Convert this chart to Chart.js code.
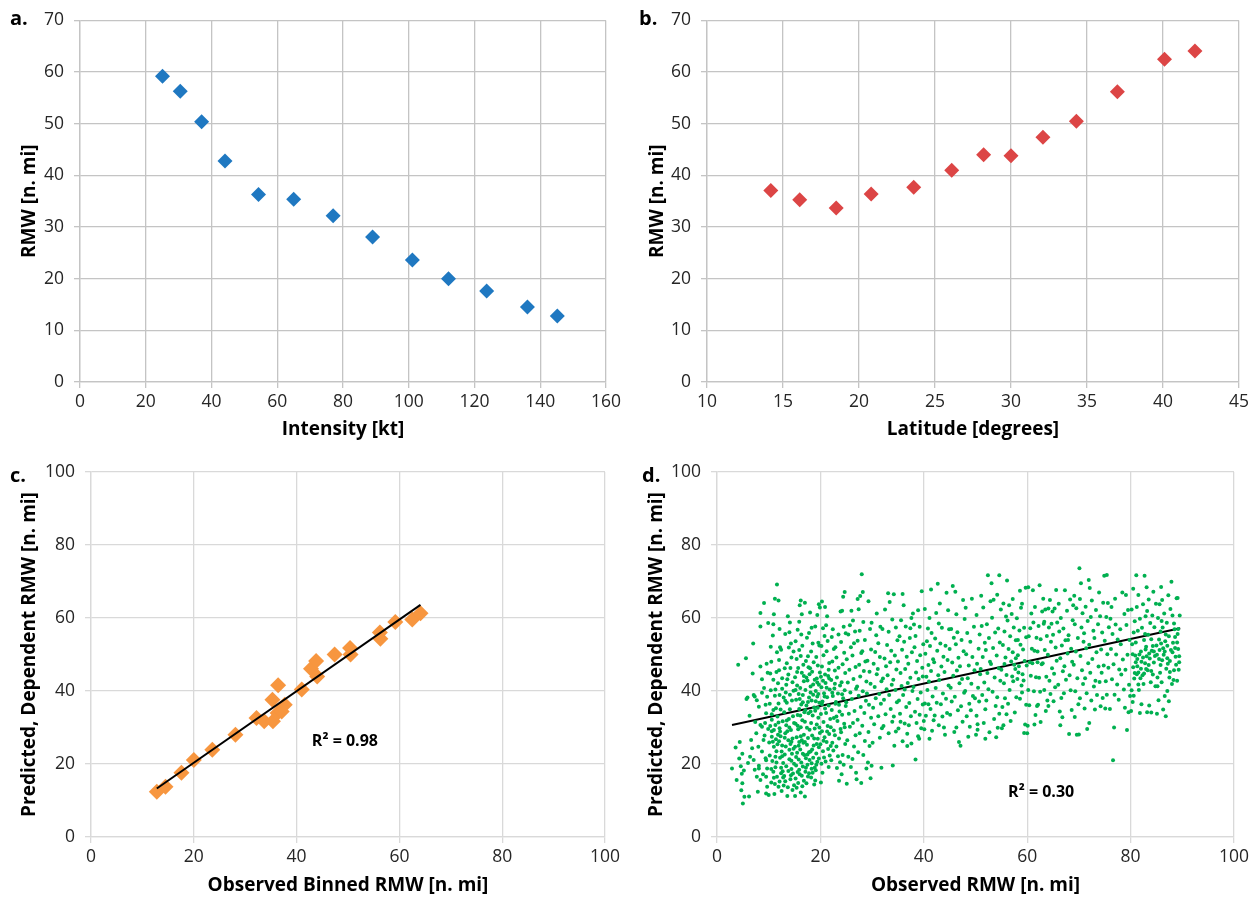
<!DOCTYPE html>
<html>
<head>
<meta charset="utf-8">
<title>RMW relationships</title>
<script src="https://cdn.jsdelivr.net/npm/chart.js@4.4.1/dist/chart.umd.min.js"></script>
<style>
  html, body { margin: 0; padding: 0; background: #fff; }
  #wrap { position: relative; width: 1258px; height: 899px; overflow: hidden; }
  #wrap canvas { position: absolute; }
</style>
</head>
<body>
<div id="wrap">
  <canvas id="panelA"></canvas>
  <canvas id="panelB"></canvas>
  <canvas id="panelC"></canvas>
  <canvas id="panelD"></canvas>
</div>
<script>
// --- a. RMW by intensity bin
const intensityKt = [25.1, 30.5, 37.0, 44.1, 54.3, 65.0, 77.0, 89.0, 101.1, 112.1, 123.7, 136.1, 145.2];
const rmwByIntensity = [59.2, 56.3, 50.4, 42.8, 36.3, 35.4, 32.2, 28.1, 23.6, 20.0, 17.6, 14.5, 12.8];

// --- b. RMW by latitude bin
const latitudeDeg = [14.2, 16.1, 18.5, 20.8, 23.6, 26.1, 28.2, 30.0, 32.1, 34.3, 37.0, 40.1, 42.1];
const rmwByLatitude = [37.1, 35.3, 33.7, 36.4, 37.7, 41.0, 44.0, 43.8, 47.4, 50.5, 56.2, 62.5, 64.1];

// --- c. binned observed vs predicted
const observedBinned = [12.8, 14.5, 17.6, 20.0, 23.6, 28.1, 32.2, 33.7, 35.3, 35.4, 36.3, 36.4, 37.1,
  37.7, 41.0, 42.8, 43.8, 44.0, 47.4, 50.4, 50.5, 56.2, 56.3, 59.2, 62.5, 64.1];
const predictedBinned = [12.4, 13.8, 17.6, 21.1, 23.9, 28.0, 32.6, 31.7, 37.6, 31.7, 34.0, 41.6, 34.4,
  36.2, 40.4, 46.1, 48.2, 44.0, 50.0, 51.8, 50.0, 56.0, 54.3, 58.9, 59.6, 61.3];
const trendObsC = [12.8, 64.1];
const trendPredC = [13.3, 63.6];
const r2TextC = 'R² = 0.98';
const r2AtC = [49.4, 26.3];

// --- d. every case, observed vs predicted [obs, pred]
const obsVsPred = [
  [2.9,18.8],[4.1,47.2],[4.3,21.5],[4.6,19.4],[4.7,12.8],[4.9,14.7],[5.0,9.2],[4.8,17.3],[3.6,24.5],[4.4,26.0],[4.9,22.8],[3.8,15.6],
  [5.2,18.2],[5.3,11.0],[5.6,49.0],[5.7,37.8],[5.9,38.2],[6.2,11.1],[6.3,33.2],[6.4,22.0],[6.6,26.6],[6.8,24.3],[7.0,53.0],[7.1,21.1],
  [7.1,38.9],[7.3,18.4],[7.3,38.5],[7.6,28.4],[7.7,16.5],[7.7,37.5],[8.0,24.7],[8.1,18.8],[8.1,19.5],[8.1,35.7],[8.4,61.4],[8.4,57.7],
  [8.4,46.7],[8.4,15.6],[8.4,30.7],[8.7,43.2],[8.7,30.2],[8.7,23.4],[8.7,39.5],[9.0,26.6],[9.1,64.1],[9.1,40.8],[9.4,21.6],[9.4,36.2],
  [9.5,33.9],[9.5,21.0],[9.5,16.5],[9.5,11.9],[9.7,38.4],[9.7,18.8],[9.7,13.8],[9.9,58.6],[9.8,45.0],[9.6,47.5],[6.9,44.8],[7.4,31.5],
  [9.2,27.8],[9.9,29.6],[8.9,17.2],[6.0,20.3],[7.9,12.4],[9.3,31.2],
  [10.0,11.5],[10.6,32.1],[11.0,29.3],[10.6,27.5],[11.0,24.7],[11.3,22.0],[11.3,19.1],[11.6,16.5],[11.9,13.8],[10.2,36.5],[10.4,40.2],
  [10.3,44.8],[10.5,48.0],[10.8,55.2],[10.9,58.3],[11.2,65.3],[11.6,69.2],[11.9,64.8],[12.1,57.0],[12.2,52.0],[12.4,51.3],[12.0,48.5],
  [11.5,45.2],[11.8,42.1],[11.2,38.7],[11.4,35.3],[11.7,33.0],[11.9,31.4],[12.1,29.8],[12.3,27.6],[12.0,26.2],[12.6,25.1],[12.5,23.4],
  [12.2,21.7],[12.8,20.3],[12.4,19.0],[12.7,18.0],[12.1,15.2],[12.9,14.1],[12.5,12.6],[13.0,16.7],[13.1,22.6],[13.3,24.8],[13.2,28.4],
  [13.4,30.6],[13.0,34.2],[13.5,36.8],[13.3,39.6],[13.6,43.2],[13.8,44.5],[13.5,47.6],[13.9,51.9],[13.2,55.6],[13.7,60.5],[14.1,58.8],
  [14.0,56.1],[14.3,53.0],[14.4,49.2],[14.2,46.3],[14.6,42.4],[14.8,40.1],[14.5,37.4],[14.1,35.0],[14.7,33.1],[14.9,31.2],[14.3,29.3],
  [14.6,27.0],[14.2,25.5],[14.8,24.2],[14.5,22.8],[14.0,21.3],[14.9,20.1],[14.4,18.6],[14.7,17.4],[14.2,15.8],[14.9,14.2],[14.6,12.9],
  [13.6,11.2],[10.7,20.8],[10.9,17.9],[10.5,14.9],[11.1,11.8],[11.4,26.8],[10.3,30.4],[11.9,36.6],[12.7,31.7],[12.9,38.2],[13.8,26.5],
  [13.4,19.4],[10.6,33.6],[11.8,28.0],[12.3,34.9],[13.9,32.3],[11.5,23.5],[12.6,40.6],[10.9,43.1],[13.1,46.2],[14.0,30.0],[12.8,16.3],
  [11.2,14.5],[13.7,13.6],[14.4,26.1],[10.1,25.9],[12.0,45.7],[13.4,41.7],[11.6,50.6],[10.4,52.1],[14.8,50.8],[11.0,61.0],
  [10.2,22.3],[10.8,26.1],[11.3,30.7],[11.7,25.4],[12.2,28.9],[12.6,22.1],[13.1,27.2],[13.5,31.9],[14.0,23.9],[14.4,20.9],[10.5,18.6],
  [11.0,16.2],[11.5,20.4],[12.4,17.5],[13.2,15.3],[13.8,18.1],[14.3,16.9],[10.9,34.8],[11.3,40.4],[12.6,43.5],[13.2,37.3],[14.1,39.0],
  [12.1,38.9],[10.6,29.0],[13.6,29.0],
  [15.1,11.2],[15.4,13.5],[15.2,16.0],[15.6,17.8],[15.3,19.6],[15.8,21.2],[15.5,23.1],[15.1,24.7],[15.9,26.0],[15.4,27.3],[15.7,29.5],
  [15.2,31.0],[15.6,33.4],[15.9,35.1],[15.3,37.6],[15.8,39.2],[15.5,41.5],[15.1,43.8],[15.7,46.3],[15.4,48.8],[15.9,51.2],[15.6,56.8],
  [15.9,59.0],[16.2,64.8],[16.0,63.5],[16.3,55.5],[16.5,52.4],[16.2,49.6],[16.7,47.2],[16.4,45.0],[16.8,42.7],[16.1,40.8],[16.6,38.9],
  [16.3,36.3],[16.9,34.2],[16.5,32.0],[16.2,30.1],[16.8,28.0],[16.4,26.5],[16.7,25.8],[16.1,24.0],[16.9,22.5],[16.3,20.4],[16.6,19.3],
  [16.0,17.2],[16.8,15.4],[16.5,13.9],[16.2,12.2],[17.0,11.1],[17.3,14.7],[17.1,17.9],[17.5,19.8],[17.2,21.6],[17.8,23.2],[17.4,25.3],
  [17.6,27.1],[17.9,29.4],[17.0,31.6],[17.7,33.9],[17.3,36.0],[17.8,38.2],[17.1,40.3],[17.5,42.9],[17.9,44.6],[17.2,48.2],[17.6,49.5],
  [17.4,54.6],[17.8,55.9],[18.0,61.5],[18.3,57.3],[18.5,53.0],[18.2,50.8],[18.7,47.9],[18.4,45.3],[18.9,43.1],[18.1,41.2],[18.6,39.0],
  [18.3,37.4],[18.8,35.5],[18.5,33.3],[18.2,31.2],[18.9,29.7],[18.4,27.8],[18.7,25.1],[18.1,23.4],[18.6,21.7],[18.3,20.2],[18.9,19.0],
  [18.5,17.6],[18.2,16.3],[18.8,14.4],[19.1,18.3],[19.4,20.6],[19.2,22.9],[19.7,24.6],[19.5,26.9],[19.9,28.5],[19.3,30.8],[19.6,32.7],
  [19.0,34.6],[19.8,36.8],[19.4,38.5],[19.1,40.0],[19.7,41.7],[19.3,43.4],[19.9,45.1],[19.5,47.0],[19.2,49.3],[19.8,52.5],[19.6,53.2],
  [19.4,60.8],[19.9,62.9],[19.7,63.8],[19.0,57.7],[17.0,64.2],[16.4,61.0],[15.2,53.6],[15.5,45.2],[17.7,46.5],[19.6,39.2],[18.1,34.4],
  [16.0,37.8],[17.5,22.6],[19.0,15.5],[15.7,14.8],[17.6,16.6],
  [15.3,21.9],[15.8,25.0],[16.2,27.6],[16.6,22.8],[17.0,26.0],[17.4,29.9],[17.9,21.1],[18.4,24.0],[18.8,27.0],[19.3,25.5],[19.7,21.5],
  [15.6,30.5],[16.1,33.3],[16.6,36.9],[17.1,34.8],[17.6,37.0],[18.1,39.6],[18.6,41.8],[19.1,37.2],[19.5,35.4],[15.9,18.4],[16.4,16.8],
  [17.2,19.0],[17.8,17.5],[18.3,18.7],[19.2,19.8],[19.8,30.0],[15.2,40.3],[16.8,44.1],[18.0,46.2],[19.4,42.3],[17.3,43.7],
  [20.1,14.9],[20.4,17.6],[20.2,20.1],[20.7,21.8],[20.5,23.5],[20.0,25.4],[20.8,27.3],[20.3,29.0],[20.6,31.5],[20.1,33.7],[20.9,35.2],
  [20.4,37.1],[20.7,39.4],[20.2,41.0],[20.5,42.8],[20.9,44.5],[20.3,46.7],[20.6,49.8],[20.2,52.3],[20.8,55.1],[20.5,57.2],[20.9,63.0],
  [20.3,64.5],[21.1,58.0],[21.4,53.7],[21.2,50.9],[21.7,47.7],[21.5,44.1],[21.0,42.2],[21.8,40.4],[21.3,38.3],[21.6,36.0],[21.1,34.0],
  [21.9,32.3],[21.4,30.4],[21.7,28.2],[21.2,26.0],[21.5,24.1],[21.8,22.3],[21.0,20.7],[21.6,19.2],[22.1,21.0],[22.5,23.7],[22.3,25.8],
  [22.8,27.9],[22.0,30.1],[22.6,32.6],[22.2,34.8],[22.9,36.5],[22.4,38.6],[22.7,40.7],[22.1,43.0],[22.8,45.6],[22.3,48.1],[22.6,51.5],
  [22.2,54.8],[22.9,52.0],[23.1,49.2],[23.5,46.4],[23.2,43.7],[23.8,41.5],[23.4,39.3],[23.0,37.0],[23.7,34.4],[23.3,31.8],[23.9,29.6],
  [23.6,27.0],[23.1,24.8],[23.4,22.1],[23.8,20.5],[23.2,18.9],[23.6,15.4],[24.1,17.2],[24.5,19.8],[24.3,22.5],[24.8,25.5],[24.0,28.7],
  [24.6,31.0],[24.2,33.5],[24.9,35.9],[24.4,38.0],[24.7,40.2],[24.1,42.4],[24.8,44.9],[24.3,47.3],[24.6,50.5],[24.0,53.4],[24.9,55.8],
  [24.5,57.6],[24.2,62.0],[24.7,67.1],[24.4,65.8],[23.9,61.8],[21.3,60.5],[22.4,56.9],[23.5,55.5],
  [20.3,36.4],[20.8,38.5],[21.2,40.9],[21.7,43.4],[22.3,39.5],[22.8,42.0],[20.6,26.4],[21.3,28.9],[22.0,24.9],[22.6,29.2],[23.1,33.0],
  [23.6,36.2],[24.2,39.1],[24.7,30.1],[20.1,43.9],[21.6,45.8],
  [25.1,14.6],[25.4,22.0],[25.2,26.5],[25.7,30.2],[25.5,33.8],[25.0,36.9],[25.8,39.6],[25.3,42.3],[25.6,45.8],[25.1,48.7],[25.9,52.0],
  [25.4,55.5],[25.7,58.0],[26.0,62.0],[26.3,59.3],[26.5,53.1],[26.2,49.7],[26.8,46.6],[26.4,43.3],[26.9,40.6],[26.1,37.8],[26.6,34.5],
  [26.3,31.2],[26.8,27.9],[26.5,24.8],[26.2,21.4],[26.9,17.6],[27.0,15.8],[27.3,23.2],[27.6,28.4],[27.2,32.1],[27.8,35.6],[27.4,38.7],
  [27.1,41.2],[27.7,44.0],[27.5,47.2],[27.9,50.4],[27.2,53.8],[27.6,56.5],[27.4,62.4],[27.7,66.0],[27.2,65.2],[27.9,14.8],[28.0,72.0],
  [28.2,67.1],[28.3,58.9],[28.6,54.0],[28.1,50.9],[28.7,48.1],[28.4,45.5],[28.9,42.6],[28.2,39.9],[28.8,37.3],[28.5,34.0],[28.1,30.5],
  [28.6,26.3],[28.3,22.5],[28.9,18.8],[29.2,20.4],[29.5,24.9],[29.3,28.8],[29.8,32.7],[29.4,36.2],[29.0,39.3],[29.7,42.0],[29.5,45.3],
  [29.1,48.3],[29.8,51.4],[29.6,57.0],[29.3,64.6],[29.9,58.7],[29.7,16.1],[29.9,19.5],[26.7,56.3],[25.9,19.2],
  [30.1,25.8],[30.4,30.9],[30.2,35.4],[30.7,38.0],[30.5,41.1],[30.9,44.6],[30.3,47.5],[30.6,50.7],[30.8,55.3],[31.2,53.1],[31.5,49.3],
  [31.1,46.0],[31.8,42.7],[31.4,39.2],[31.7,36.5],[31.2,33.1],[31.9,29.8],[31.5,27.2],[31.8,19.0],[32.2,30.4],[32.6,33.6],[32.3,37.6],
  [32.8,40.5],[32.1,43.4],[32.7,46.8],[32.4,48.9],[32.0,57.0],[32.9,52.6],[33.1,66.8],[33.4,64.4],[33.2,56.2],[33.7,51.0],[33.5,47.9],
  [33.0,44.3],[33.8,41.7],[33.3,38.9],[33.6,35.1],[33.9,31.6],[33.2,28.4],[34.0,19.6],[34.3,25.0],[34.6,28.9],[34.2,33.0],[34.8,36.9],
  [34.5,40.3],[34.1,43.1],[34.7,45.9],[34.4,49.7],[34.9,53.9],[34.6,57.4],[34.2,66.5],[30.9,61.2],[31.6,57.6],[32.5,62.3],[33.9,59.6],
  [35.1,29.7],[35.4,33.8],[35.2,37.4],[35.7,41.4],[35.5,44.9],[35.0,48.1],[35.8,51.3],[35.3,55.0],[35.6,59.4],[35.9,66.6],[36.1,63.5],
  [36.5,57.7],[36.2,53.5],[36.7,49.4],[36.4,46.0],[36.9,42.2],[36.0,38.9],[36.6,35.6],[36.3,31.1],[36.8,28.3],[37.1,30.6],[37.5,33.1],
  [37.2,36.7],[37.8,40.0],[37.4,43.6],[37.0,47.5],[37.7,50.6],[37.3,54.5],[37.9,61.2],[37.6,60.0],[38.1,58.2],[38.4,55.1],[38.2,52.0],
  [38.7,48.2],[38.5,45.1],[38.0,41.1],[38.8,37.8],[38.3,34.3],[38.6,31.2],[38.9,27.6],[38.4,21.2],[39.1,26.9],[39.5,29.8],[39.2,33.5],
  [39.8,36.3],[39.4,39.6],[39.0,43.3],[39.7,46.4],[39.3,49.8],[39.9,52.8],[39.6,67.3],[39.2,57.6],[36.8,24.9],[37.6,25.6],[35.9,26.2],
  [38.9,62.1],[36.3,40.4],[37.4,57.2],[39.8,44.0],[35.5,31.6],
  [40.1,29.5],[40.4,33.2],[40.2,36.6],[40.7,40.3],[40.5,43.9],[40.9,47.1],[40.3,50.2],[40.6,53.6],[40.8,57.1],[40.2,62.5],[41.1,60.0],
  [41.5,55.9],[41.2,52.3],[41.8,48.7],[41.4,45.5],[41.0,42.6],[41.7,38.5],[41.3,35.1],[41.9,32.0],[41.6,29.1],[42.1,33.3],[42.5,36.8],
  [42.3,40.8],[42.8,44.3],[42.0,47.9],[42.6,51.0],[42.2,54.4],[42.9,58.5],[42.4,61.4],[42.7,69.4],[43.1,64.0],[43.5,57.3],[43.2,53.0],
  [43.8,49.4],[43.4,46.7],[43.0,43.0],[43.7,39.3],[43.3,36.4],[43.9,30.0],[44.1,28.0],[44.5,34.0],[44.3,37.9],[44.8,41.5],[44.0,45.2],
  [44.6,48.5],[44.2,52.4],[44.9,56.9],[44.4,66.9],[44.7,62.1],[41.4,67.8],[40.0,31.8],[42.9,30.6],[43.6,33.0],[41.1,26.9],[40.9,36.4],
  [45.1,33.5],[45.4,37.1],[45.2,40.9],[45.7,44.2],[45.5,47.8],[45.0,51.5],[45.8,54.6],[45.3,57.0],[45.6,68.8],[46.1,67.2],[46.5,56.1],
  [46.2,52.8],[46.7,49.1],[46.4,45.6],[46.9,42.1],[46.0,38.4],[46.6,34.7],[46.3,30.0],[46.8,26.0],[47.1,25.0],[47.5,31.6],[47.2,35.8],
  [47.8,39.5],[47.4,43.3],[47.0,46.8],[47.7,50.9],[47.3,54.0],[47.9,59.7],[47.6,64.9],[48.1,62.8],[48.4,55.9],[48.2,50.1],[48.7,47.0],
  [48.5,43.5],[48.0,40.0],[48.8,36.5],[48.3,33.1],[48.9,30.2],[49.1,34.7],[49.5,38.6],[49.2,42.0],[49.8,45.7],[49.4,49.3],[49.0,53.5],
  [49.7,57.6],[49.3,65.3],[49.9,38.0],[46.3,61.0],[45.9,28.8],[48.6,27.5],
  [50.1,28.0],[50.4,29.4],[50.2,33.2],[50.7,37.1],[50.5,40.9],[50.9,44.6],[50.3,47.5],[50.6,51.6],[50.8,55.5],[50.2,60.8],[51.1,66.1],
  [51.5,62.9],[51.2,57.8],[51.8,53.2],[51.4,49.3],[51.0,46.0],[51.7,42.3],[51.3,38.9],[51.9,35.0],[51.6,31.2],[52.1,37.4],[52.5,40.5],
  [52.3,44.9],[52.8,48.0],[52.0,51.2],[52.6,54.5],[52.2,58.3],[52.9,64.6],[52.4,71.7],[53.1,69.5],[53.5,65.0],[53.2,60.1],[53.8,56.0],
  [53.4,51.8],[53.0,47.4],[53.7,43.7],[53.3,39.8],[53.9,35.9],[53.6,32.3],[54.0,27.3],[54.3,29.9],[54.6,33.8],[54.2,38.3],[54.8,42.8],
  [54.5,46.2],[54.1,49.7],[54.7,53.3],[54.4,57.1],[54.9,62.3],[54.6,71.7],[54.2,66.4],[51.9,26.9],[52.7,28.7],[50.4,30.9],
  [55.1,29.8],[55.4,30.6],[55.2,35.6],[55.7,38.0],[55.5,42.1],[55.0,45.8],[55.8,49.2],[55.3,52.6],[55.6,56.3],[55.9,60.4],[55.4,64.0],
  [56.1,70.3],[56.5,63.5],[56.2,59.3],[56.7,55.0],[56.4,51.5],[56.9,48.1],[56.0,44.4],[56.6,40.3],[56.3,36.5],[56.8,31.8],[57.1,44.0],
  [57.5,47.2],[57.2,50.6],[57.8,53.9],[57.4,57.4],[57.0,61.1],[57.7,46.0],[57.3,42.7],[57.9,38.3],[57.6,34.1],[58.1,43.3],[58.4,46.8],
  [58.2,49.8],[58.7,52.7],[58.5,56.6],[58.0,59.9],[58.8,62.8],[58.3,45.1],[58.9,41.5],[58.6,37.9],[59.1,44.6],[59.5,48.2],[59.2,51.4],
  [59.8,54.7],[59.4,57.3],[59.0,63.9],[59.7,68.3],[59.3,42.9],[59.9,47.0],[59.6,30.8],[59.4,28.5],[59.8,36.2],[57.2,65.2],[58.6,67.5],
  [56.0,33.6],[55.6,47.4],[58.2,54.0],[59.0,39.6],[57.8,49.0],
  [60.1,30.5],[60.4,36.1],[60.2,40.3],[60.7,44.2],[60.5,47.9],[60.9,51.6],[60.3,55.0],[60.6,57.2],[60.8,61.2],[60.2,68.4],[61.1,67.6],
  [61.5,63.0],[61.2,58.8],[61.8,54.6],[61.4,51.0],[61.0,47.6],[61.7,43.8],[61.3,39.9],[61.9,35.9],[61.6,33.4],[62.1,36.2],[62.5,39.8],
  [62.3,43.6],[62.8,47.3],[62.0,50.8],[62.6,54.2],[62.2,57.8],[62.9,61.8],[62.4,69.0],[63.1,65.3],[63.5,62.3],[63.2,58.4],[63.8,55.1],
  [63.4,51.2],[63.0,47.6],[63.7,43.9],[63.3,40.3],[63.9,37.4],[63.6,34.5],[64.1,35.9],[64.5,39.2],[64.3,42.8],[64.8,46.2],[64.0,49.9],
  [64.6,53.5],[64.2,57.4],[64.9,61.8],[64.4,64.9],[64.7,58.4],[60.0,28.4],[61.4,30.8],[62.6,31.5],[64.1,62.6],[63.3,59.0],[62.0,47.9],
  [65.1,37.2],[65.4,41.0],[65.2,44.7],[65.7,48.3],[65.5,51.9],[65.0,55.4],[65.8,58.8],[65.3,62.6],[65.6,67.7],[66.1,63.9],[66.5,60.0],
  [66.2,56.3],[66.7,52.5],[66.4,49.0],[66.9,45.4],[66.0,41.7],[66.6,38.1],[66.3,34.4],[66.8,32.8],[67.1,39.4],[67.5,43.1],[67.2,46.8],
  [67.8,50.3],[67.4,53.9],[67.0,57.1],[67.7,62.0],[67.3,67.6],[67.9,54.0],[68.1,28.2],[68.4,40.2],[68.2,44.3],[68.7,48.0],[68.5,51.6],
  [68.0,55.3],[68.8,59.4],[68.3,65.1],[68.9,63.5],[69.1,66.1],[69.5,62.7],[69.2,58.3],[69.8,54.5],[69.4,50.8],[69.0,47.2],[69.7,43.5],
  [69.3,39.9],[69.9,36.4],[69.6,28.0],[69.2,32.9],[68.6,34.8],[66.4,30.6],
  [70.1,73.6],[70.4,69.5],[70.2,65.2],[70.7,61.3],[70.5,57.4],[70.9,53.5],[70.3,49.6],[70.6,45.7],[70.8,41.9],[70.2,38.0],[71.1,35.2],
  [71.5,39.4],[71.2,43.5],[71.8,47.6],[71.4,51.7],[71.0,55.8],[71.7,59.2],[71.3,63.1],[71.9,70.4],[72.1,68.2],[72.5,64.8],[72.3,60.3],
  [72.8,56.5],[72.0,52.7],[72.6,48.8],[72.2,45.0],[72.9,41.2],[72.4,37.4],[73.1,34.9],[73.5,38.9],[73.2,42.8],[73.8,46.7],[73.4,50.6],
  [73.0,54.5],[73.7,58.3],[73.3,62.2],[73.9,67.0],[74.1,60.5],[74.5,56.0],[74.3,51.4],[74.8,47.0],[74.0,42.5],[74.6,38.1],[74.2,35.8],
  [74.9,71.6],[74.4,45.0],[70.0,28.1],[72.0,31.2],[74.7,64.2],[71.6,29.6],
  [75.1,35.2],[75.4,39.0],[75.2,42.7],[75.7,46.4],[75.5,50.1],[75.0,53.8],[75.8,57.5],[75.3,60.3],[75.6,64.1],[75.4,71.8],[76.1,59.8],
  [76.5,55.6],[76.2,51.5],[76.7,47.3],[76.4,43.2],[76.9,39.0],[76.0,35.1],[76.6,21.0],[76.3,63.0],[77.1,58.2],[77.5,54.1],[77.2,50.0],
  [77.8,45.9],[77.4,41.8],[77.0,65.3],[77.7,37.6],[78.1,52.8],[78.5,48.6],[78.2,44.5],[78.7,40.4],[78.0,56.9],[78.8,61.1],[78.4,67.0],
  [78.9,35.4],[79.1,66.3],[79.5,62.2],[79.2,58.1],[79.8,54.0],[79.4,49.9],[79.0,45.8],[79.7,41.7],[79.3,29.3],[79.6,34.2],[79.9,38.6],
  [76.8,30.0],
  [80.1,34.5],[80.4,37.0],[80.2,40.2],[80.7,43.4],[80.5,46.5],[80.9,49.7],[80.3,52.8],[80.6,56.0],[80.8,59.1],[80.2,62.3],[80.5,68.0],
  [81.1,71.7],[81.5,66.3],[81.2,63.0],[81.8,59.8],[81.4,56.5],[81.0,53.3],[81.7,50.0],[81.3,46.8],[81.9,43.5],[81.6,40.3],[81.2,44.6],
  [81.8,34.0],[82.1,36.4],[82.5,41.9],[82.3,44.3],[82.8,47.6],[82.0,50.8],[82.6,54.0],[82.2,57.3],[82.9,60.5],[82.4,63.8],[82.7,71.6],
  [83.1,68.4],[83.5,65.1],[83.2,61.9],[83.8,58.6],[83.4,55.4],[83.0,52.1],[83.7,48.9],[83.3,45.7],[83.9,42.4],[83.6,36.0],[83.2,34.2],
  [84.1,51.0],[84.5,47.8],[84.3,44.5],[84.8,41.3],[84.0,54.2],[84.6,57.5],[84.2,60.7],[84.9,63.9],[84.4,67.2],[84.7,49.6],[84.0,34.1],
  [82.0,46.1],[81.0,47.9],[82.4,49.2],[83.6,50.3],[80.8,44.9],[83.0,46.0],[81.5,41.8],[84.3,52.3],[80.6,38.7],[82.8,55.6],
  [81.5,45.1],[82.1,48.0],[82.6,44.8],[83.1,49.5],[83.5,47.1],[84.0,45.5],[84.5,50.8],[81.3,48.8],[80.4,50.1],[82.9,51.4],
  [85.1,33.8],[85.4,37.5],[85.2,41.3],[85.7,45.0],[85.5,48.8],[85.0,52.5],[85.8,56.3],[85.3,60.0],[85.6,63.8],[85.9,68.5],[86.1,64.9],
  [86.5,61.2],[86.2,57.4],[86.7,53.6],[86.4,49.9],[86.9,46.1],[86.0,42.4],[86.6,38.6],[86.3,34.9],[86.8,33.1],[87.1,40.0],[87.5,43.7],
  [87.2,47.5],[87.8,51.2],[87.4,55.0],[87.0,58.7],[87.7,62.5],[87.3,66.2],[87.9,69.9],[88.1,60.7],[88.5,56.9],[88.2,53.2],[88.7,49.4],
  [88.4,45.7],[88.0,41.9],[88.8,47.2],[88.3,43.0],[88.9,65.4],[88.6,51.8],[89.1,65.5],[89.5,60.7],[89.2,57.0],[89.0,53.3],[89.4,49.5],
  [89.3,45.8],[89.0,42.8],[89.4,47.9],[85.5,54.1],[86.3,51.7],[87.1,49.0],[86.8,55.5],[85.8,47.1],[87.6,45.2],[86.0,59.2],[88.4,58.5],
  [87.4,37.2],[85.2,43.7],[89.2,51.5],
  [85.1,49.9],[85.6,51.2],[86.1,48.4],[86.6,50.8],[87.1,52.4],[87.6,48.2],[88.1,50.6],[88.6,54.8],[89.1,55.6],[85.9,53.0]
];
const trendObsD = [2.9, 89.6];
const trendPredD = [30.7, 57.2];
const r2TextD = 'R² = 0.30';
const r2AtD = [62.7, 12.1];

const FONT = '"Open Sans", "DejaVu Sans", sans-serif';
const TICK_COLOR = '#262626';
const TICK_SIZE = 17.5;
const TITLE_SIZE = 19;

// draws the panel letter and the R² note on top of the chart
const panelNotes = {
  id: 'panelNotes',
  afterDraw(chart, args, opts) {
    const { ctx } = chart;
    ctx.save();
    ctx.fillStyle = '#000';
    ctx.textBaseline = 'middle';
    ctx.font = `bold 20px ${FONT}`;
    ctx.textAlign = 'left';
    ctx.fillText(opts.tag, opts.tagX, opts.tagY);
    if (opts.note) {
      const x = chart.scales.x.getPixelForValue(opts.noteAt[0]);
      const y = chart.scales.y.getPixelForValue(opts.noteAt[1]);
      ctx.font = `bold 16px ${FONT}`;
      ctx.textAlign = 'center';
      ctx.fillText(opts.note, x, y);
    }
    ctx.restore();
  }
};

function toPoints(xs, ys) {
  return xs.map((x, i) => ({ x, y: ys[i] }));
}

function makePanel(id, g, ax, datasets, notes) {
  const canvas = document.getElementById(id);
  canvas.width = g.w;
  canvas.height = g.h;
  canvas.style.left = g.left + 'px';
  canvas.style.top = g.top + 'px';

  const lh = TITLE_SIZE * 1.2;
  const yBoxW = g.plotL - g.left;
  const xBoxH = g.top + g.h - g.plotB;
  const grid = { color: ax.grid, lineWidth: 1.3, tickLength: 6 };

  new Chart(canvas, {
    type: 'scatter',
    data: { datasets },
    options: {
      responsive: false,
      animation: false,
      layout: {
        padding: { left: 0, bottom: 0, top: g.plotT - g.top, right: g.left + g.w - g.plotR }
      },
      plugins: {
        legend: { display: false },
        tooltip: { enabled: false },
        panelNotes: notes
      },
      scales: {
        x: {
          type: 'linear',
          min: ax.xMin, max: ax.xMax,
          grid,
          border: { color: ax.grid, width: 1.3 },
          ticks: { stepSize: ax.xStep, padding: 4, color: TICK_COLOR, font: { family: FONT, size: TICK_SIZE } },
          title: {
            display: true, text: ax.xTitle, color: '#000',
            font: { family: FONT, size: TITLE_SIZE, weight: 'bold' },
            padding: { top: 0, bottom: g.top + g.h - g.xTitleY - lh / 2 }
          },
          afterFit(scale) { scale.height = xBoxH; }
        },
        y: {
          type: 'linear',
          min: ax.yMin, max: ax.yMax,
          grid,
          border: { color: ax.grid, width: 1.3 },
          ticks: { stepSize: ax.yStep, padding: 10, color: TICK_COLOR, font: { family: FONT, size: TICK_SIZE } },
          title: {
            display: true, text: ax.yTitle, color: '#000',
            font: { family: FONT, size: TITLE_SIZE, weight: 'bold' },
            padding: { top: g.yTitleX - g.left - lh / 2, bottom: 0 }
          },
          afterFit(scale) { scale.width = yBoxW; }
        }
      }
    },
    plugins: [panelNotes]
  });
}

function diamonds(points, color, r) {
  return {
    data: points,
    pointStyle: 'rectRot',
    pointRadius: r,
    pointBackgroundColor: color,
    pointBorderWidth: 0,
    showLine: false
  };
}

function trend(xs, ys) {
  return {
    data: toPoints(xs, ys),
    showLine: true,
    borderColor: '#000',
    borderWidth: 2,
    pointRadius: 0
  };
}

makePanel('panelA',
  { left: 0, top: 0, w: 625, h: 445, plotL: 80, plotR: 606, plotT: 17, plotB: 382, yTitleX: 30, xTitleY: 430 },
  { xMin: 0, xMax: 160, xStep: 20, yMin: 0, yMax: 70, yStep: 10, grid: '#c4c4c4',
    xTitle: 'Intensity [kt]', yTitle: 'RMW [n. mi]' },
  [diamonds(toPoints(intensityKt, rmwByIntensity), '#1f78c1', 7.5)],
  { tag: 'a.', tagX: 10, tagY: 19 });

makePanel('panelB',
  { left: 630, top: 0, w: 628, h: 445, plotL: 707, plotR: 1239, plotT: 17, plotB: 382, yTitleX: 658, xTitleY: 430 },
  { xMin: 10, xMax: 45, xStep: 5, yMin: 0, yMax: 70, yStep: 10, grid: '#c4c4c4',
    xTitle: 'Latitude [degrees]', yTitle: 'RMW [n. mi]' },
  [diamonds(toPoints(latitudeDeg, rmwByLatitude), '#dc4545', 7.5)],
  { tag: 'b.', tagX: 9, tagY: 19 });

makePanel('panelC',
  { left: 0, top: 445, w: 625, h: 454, plotL: 91, plotR: 605, plotT: 472, plotB: 837, yTitleX: 30, xTitleY: 886 },
  { xMin: 0, xMax: 100, xStep: 20, yMin: 0, yMax: 100, yStep: 20, grid: '#d9d9d9',
    xTitle: 'Observed Binned RMW [n. mi]', yTitle: 'Predicted, Dependent RMW [n. mi]' },
  [trend(trendObsC, trendPredC), diamonds(toPoints(observedBinned, predictedBinned), '#f7963f', 8)],
  { tag: 'c.', tagX: 10, tagY: 31, note: r2TextC, noteAt: r2AtC });

makePanel('panelD',
  { left: 630, top: 445, w: 628, h: 454, plotL: 717, plotR: 1234, plotT: 472, plotB: 837, yTitleX: 657, xTitleY: 886 },
  { xMin: 0, xMax: 100, xStep: 20, yMin: 0, yMax: 100, yStep: 20, grid: '#d9d9d9',
    xTitle: 'Observed RMW [n. mi]', yTitle: 'Predicted, Dependent RMW [n. mi]' },
  [
    {
      data: obsVsPred.map(p => ({ x: p[0], y: p[1] })),
      pointStyle: 'circle',
      pointRadius: 2,
      pointBackgroundColor: '#00b050',
      pointBorderWidth: 0,
      showLine: false
    },
    trend(trendObsD, trendPredD)
  ],
  { tag: 'd.', tagX: 12, tagY: 31, note: r2TextD, noteAt: r2AtD });
</script>
</body>
</html>
